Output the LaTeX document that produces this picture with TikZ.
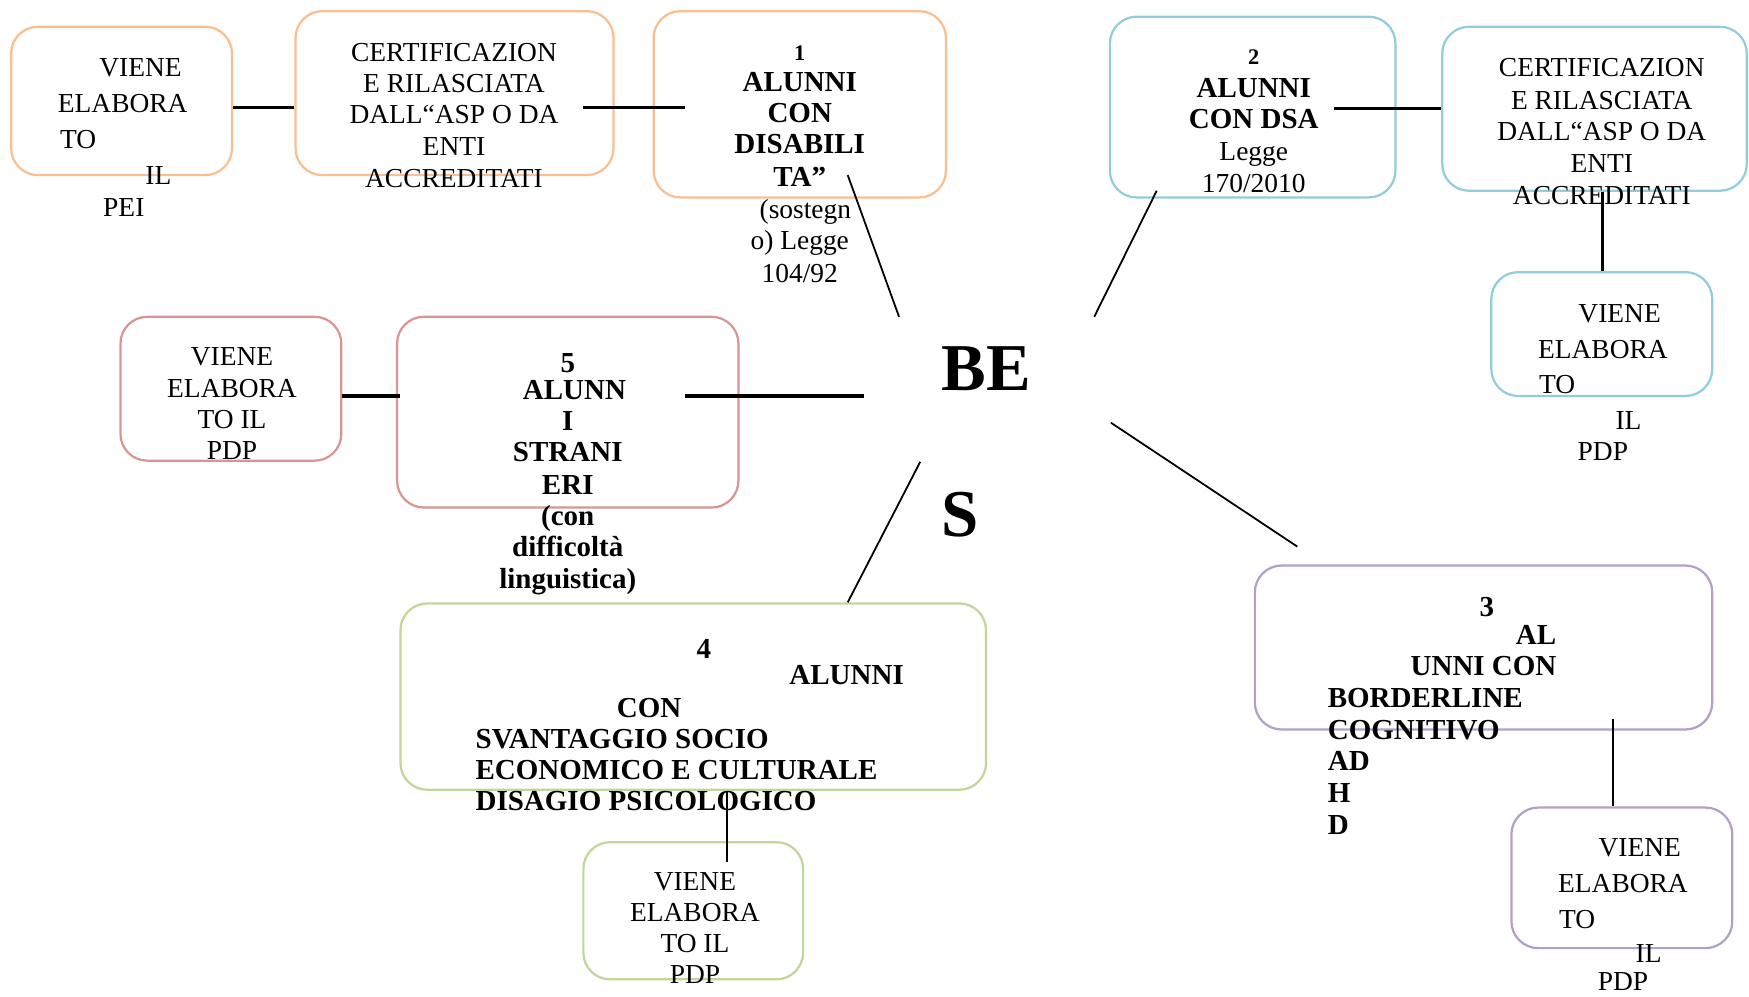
\documentclass[tikz,border=0pt]{standalone}
\usepackage{fontspec}
\setmainfont{Liberation Serif}
\usetikzlibrary{fit}
\definecolor{corng}{HTML}{FABF8F}
\definecolor{cblue}{HTML}{92CDDC}
\definecolor{cred}{HTML}{D99594}
\definecolor{cgreen}{HTML}{C2D69B}
\definecolor{cpurp}{HTML}{B2A1C7}
\begin{document}
\begin{tikzpicture}[x=0.5pt,y=-0.5pt,
 bx/.style={draw=#1, line width=1pt, rounded corners=12pt, inner sep=0pt},
 t/.style={anchor=base, inner sep=0pt, font=\fontsize{12.3}{14}\selectfont},
 tl/.style={anchor=base west, inner sep=0pt, font=\fontsize{13}{14}\selectfont\bfseries},
 tb/.style={anchor=base, inner sep=0pt, font=\fontsize{13}{14}\selectfont\bfseries},
 ts/.style={anchor=base, inner sep=0pt, font=\fontsize{10}{14}\selectfont\bfseries},
 big/.style={anchor=base, inner sep=0pt, font=\fontsize{30}{32}\selectfont\bfseries},
 con/.style={line width=0.8pt},
 conk/.style={line width=1.4pt}]
\useasboundingbox (0,0) rectangle (1568,893);

% ---------- orange group ----------
\node[bx=corng, fit={(10,24) (208,157)}] (A) {};
\node[t] (a1) at (126,69) {VIENE};
\node[t] (a2) at (110,101) {ELABORA};
\node[t] (a3) at (70,133) {TO};
\node[t] (a4) at (142,165) {IL};
\node[t] (a5) at (111,194) {PEI};

\node[bx=corng, fit={(265,10) (550,157)}] (B) {};
\node[t] (b1) at (407,55) {CERTIFICAZION};
\node[t] (b2) at (407,83) {E RILASCIATA};
\node[t] (b3) at (407,111) {DALL“ASP O DA};
\node[t] (b4) at (407,139) {ENTI};
\node[t] (b5) at (407,168) {ACCREDITATI};

\node[bx=corng, fit={(586,10) (848,177)}] (C) {};
\node[ts] (c0) at (717,54) {1};
\node[tb] (c1) at (717,82) {ALUNNI};
\node[tb] (c2) at (717,110) {CON};
\node[tb] (c3) at (717,138) {DISABILI};
\node[tb] (c4) at (717,167) {TA”};
\node[t] (c5) at (722,196) {(sostegn};
\node[t] (c6) at (717,224) {o) Legge};
\node[t] (c7) at (717,253) {104/92};

\coordinate (yAB) at (0,96);
\draw[conk] (A.east |- yAB) -- (B.west |- yAB);
\coordinate (bc1) at (523,96);
\coordinate (bc2) at (614,96);
\draw[conk] (bc1) -- (bc2);

% ---------- BES ----------
\node[big] (be) at (884,350) {BE};
\node[big] (bs) at (861,481) {S};
\coordinate (e1a) at (760,157);
\coordinate (e1b) at (806,284);
\draw[con] (e1a) -- (e1b);

% ---------- blue group ----------
\node[bx=cblue, fit={(995,15) (1251,177)}] (D) {};
\node[ts] (d0) at (1124,58) {2};
\node[tb] (d1) at (1124,87) {ALUNNI};
\node[tb] (d2) at (1124,115) {CON DSA};
\node[t] (d3) at (1124,144) {Legge};
\node[t] (d4) at (1124,173) {170/2010};

\node[bx=cblue, fit={(1293,24) (1566,171)}] (E) {};
\node[t] (e1) at (1436,69) {CERTIFICAZION};
\node[t] (e2) at (1436,98) {E RILASCIATA};
\node[t] (e3) at (1436,126) {DALL“ASP O DA};
\node[t] (e4) at (1436,155) {ENTI};
\node[t] (e5) at (1436,183) {ACCREDITATI};

\node[bx=cblue, fit={(1337,244) (1535,355)}] (F) {};
\node[t] (f1) at (1452,289) {VIENE};
\node[t] (f2) at (1437,321) {ELABORA};
\node[t] (f3) at (1396,353) {TO};
\node[t] (f4) at (1460,385) {IL};
\node[t] (f5) at (1437,413) {PDP};

\coordinate (de1) at (1196,97);
\draw[conk] (de1) -- (E.west |- de1);
\coordinate (ef) at (1437,0);
\draw[conk] (E.south -| ef) -- (F.north -| ef);
\coordinate (e2a) at (1037,171);
\coordinate (e2b) at (981,284);
\draw[con] (e2a) -- (e2b);

% ---------- red group ----------
\node[bx=cred, fit={(108,284) (306,413)}] (G) {};
\node[t] (g1) at (208,328) {VIENE};
\node[t] (g2) at (208,356) {ELABORA};
\node[t] (g3) at (208,384) {TO IL};
\node[t] (g4) at (208,412) {PDP};

\node[bx=cred, fit={(356,284) (662,455)}] (H) {};
\node[tb] (h0) at (509,334) {5};
\node[tb] (h1) at (515,358) {ALUNN};
\node[tb] (h2) at (509,386) {I};
\node[tb] (h3) at (509,414) {STRANI};
\node[tb] (h4) at (509,443) {ERI};
\node[tb] (h5) at (509,471) {(con};
\node[tb] (h6) at (509,499) {difficoltà};
\node[tb] (h7) at (509,528) {linguistica)};

\coordinate (yGH) at (0,355);
\draw[conk] (G.east |- yGH) -- ([xshift=2pt]H.west |- yGH);
\coordinate (hb1) at (614,355);
\coordinate (hb2) at (775,355);
\draw[conk] (hb1) -- (hb2);

% ---------- green group ----------
\node[bx=cgreen, fit={(359,541) (884,708)}] (K) {};
\node[tb] (k0) at (631,590) {4};
\node[tb] (k1) at (759,614) {ALUNNI};
\node[tb] (k2) at (582,643) {CON};
\node[tl] (k3) at (426,671) {SVANTAGGIO SOCIO};
\node[tl] (k4) at (426,699) {ECONOMICO E CULTURALE};
\node[tl] (k5) at (426,727) {DISAGIO PSICOLOGICO};

\node[bx=cgreen, fit={(523,755) (720,878)}] (L) {};
\node[t] (l1) at (623,798) {VIENE};
\node[t] (l2) at (623,826) {ELABORA};
\node[t] (l3) at (623,854) {TO IL};
\node[t] (l4) at (623,882) {PDP};

\coordinate (e4a) at (825,414);
\coordinate (e4b) at (760,540);
\draw[con] (e4a) -- (e4b);
\coordinate (kl) at (652,773);
\draw[con] (K.south -| kl) -- (kl);

% ---------- purple group ----------
\node[bx=cpurp, fit={(1125,507) (1535,654)}] (M) {};
\node[tb] (m0) at (1333,553) {3};
\node[tb] (m1) at (1377,578) {AL};
\node[tb] (m2) at (1330,606) {UNNI CON};
\node[tl] (m3) at (1190,634) {BORDERLINE};
\node[tl] (m4) at (1190,663) {COGNITIVO};
\node[tl] (m5) at (1190,691) {AD};
\node[tl] (m6) at (1190,719) {H};
\node[tl] (m7) at (1190,748) {D};

\node[bx=cpurp, fit={(1355,724) (1553,850)}] (N) {};
\node[t] (n1) at (1470,768) {VIENE};
\node[t] (n2) at (1455,800) {ELABORA};
\node[t] (n3) at (1414,832) {TO};
\node[t] (n4) at (1478,863) {IL};
\node[t] (n5) at (1455,888) {PDP};

\coordinate (e3a) at (996,379);
\coordinate (e3b) at (1163,490);
\draw[con] (e3a) -- (e3b);
\coordinate (mn) at (1446,645);
\draw[con] (mn) -- (N.north -| mn);
\end{tikzpicture}
\end{document}
